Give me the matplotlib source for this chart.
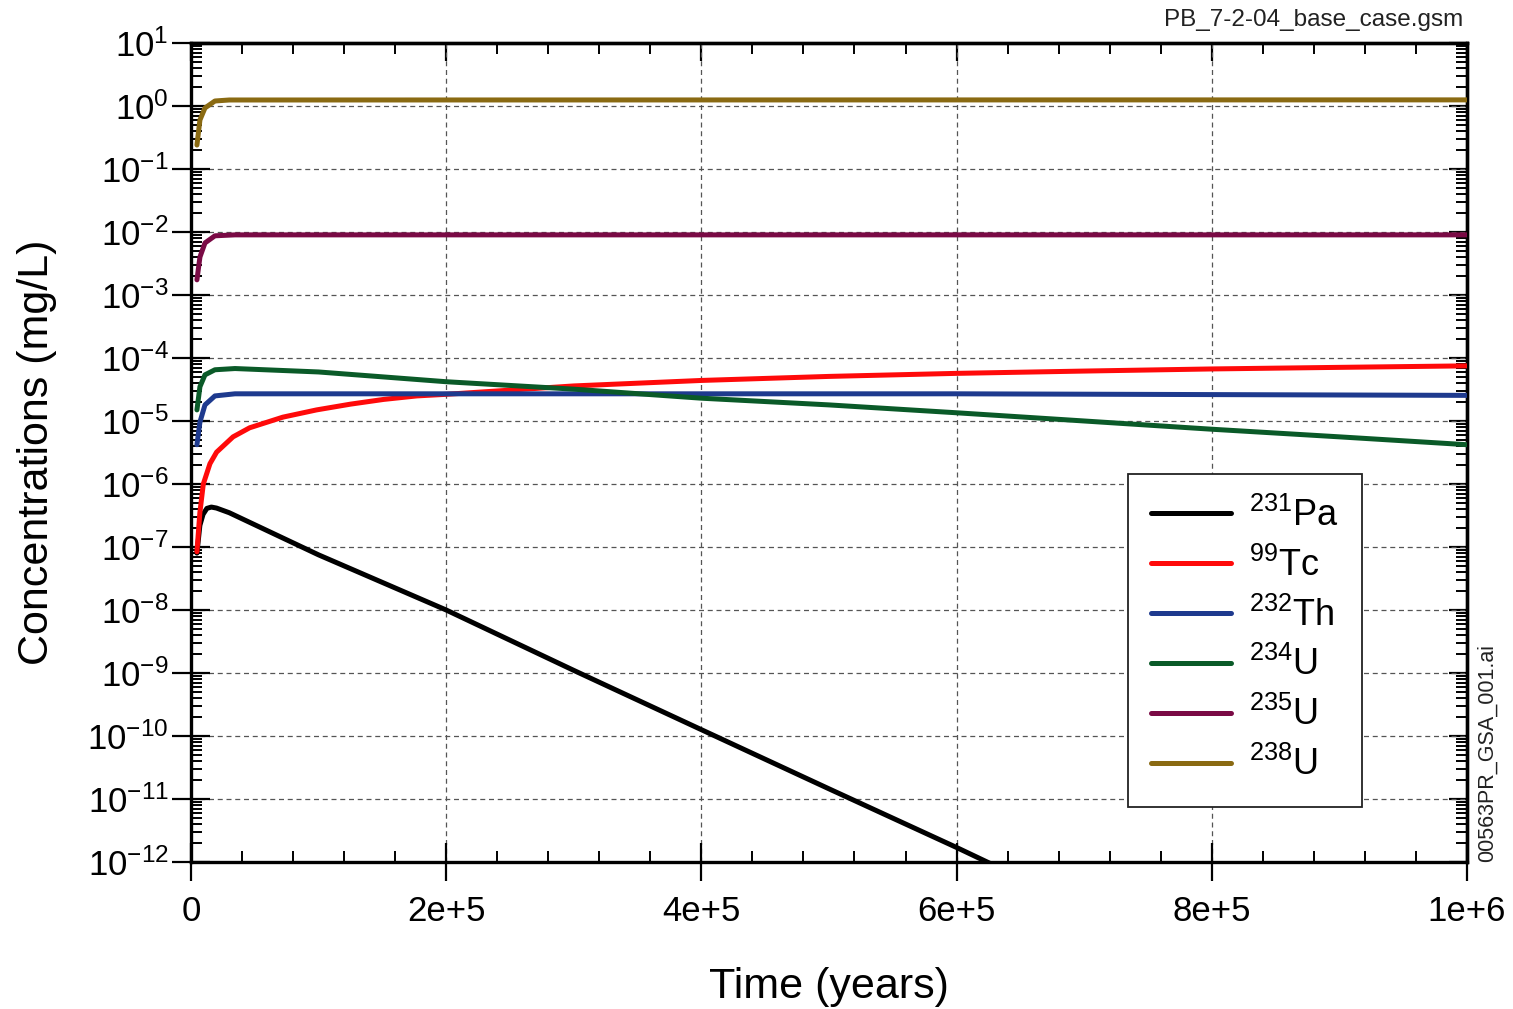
import numpy as np
import matplotlib
matplotlib.use("Agg")
import matplotlib.pyplot as plt
from matplotlib.ticker import LogLocator, MultipleLocator, FixedLocator, FixedFormatter, NullFormatter

plt.rcParams['font.family'] = ['Liberation Sans', 'DejaVu Sans']
plt.rcParams['mathtext.fontset'] = 'custom'
plt.rcParams['mathtext.rm'] = 'Liberation Sans'
plt.rcParams['mathtext.it'] = 'Liberation Sans:italic'
plt.rcParams['mathtext.bf'] = 'Liberation Sans:bold'
plt.rcParams['mathtext.default'] = 'regular'

# concentrations (mg/L), time in years
t_pa = [4700, 7000, 9500, 12500, 16000, 20000, 30000, 100000, 200000, 300000, 400000, 500000, 600000, 640000]
c_pa = [8e-8, 2.2e-7, 3.3e-7, 4.1e-7, 4.3e-7, 4.15e-7, 3.5e-7, 7.5e-8, 1.0e-8, 1.1e-9, 1.26e-10, 1.45e-11,
        1.7e-12, 7e-13]

t_tc = [4700, 7000, 9700, 14900, 20100, 33000, 46000, 72000, 98500, 125000, 151000, 177000,
        200000, 300000, 400000, 500000, 600000, 700000, 800000, 900000, 1000000]
c_tc = [8.4e-8, 3.5e-7, 1.0e-6, 2.1e-6, 3.2e-6, 5.6e-6, 7.8e-6, 1.15e-5, 1.5e-5, 1.85e-5, 2.2e-5, 2.5e-5,
        2.65e-5, 3.6e-5, 4.4e-5, 5.1e-5, 5.7e-5, 6.2e-5, 6.7e-5, 7.1e-5, 7.5e-5]

t_th = [4700, 7050, 11000, 18800, 34500, 600000, 1000000]
c_th = [4.2e-6, 9.6e-6, 1.8e-5, 2.5e-5, 2.7e-5, 2.7e-5, 2.55e-5]

t_u234 = [4700, 7050, 11000, 18800, 34500, 100000, 200000, 300000, 400000, 500000, 600000, 700000,
          800000, 900000, 1000000]
c_u234 = [1.5e-5, 3.5e-5, 5.4e-5, 6.5e-5, 6.8e-5, 6.0e-5, 4.2e-5, 3.2e-5, 2.3e-5, 1.8e-5, 1.35e-5, 1.0e-5,
          7.4e-6, 5.6e-6, 4.2e-6]

t_u235 = [4700, 7050, 11000, 18800, 34500, 1000000]
c_u235 = [1.74e-3, 4.0e-3, 6.7e-3, 8.7e-3, 9.0e-3, 9.0e-3]

t_u238 = [4700, 7050, 11000, 18800, 30000, 1000000]
c_u238 = [0.24, 0.6, 0.93, 1.2, 1.245, 1.25]

series = [
    (r'$^{231}$Pa', t_pa, c_pa, '#000000'),
    (r'$^{99}$Tc', t_tc, c_tc, '#ff0a0a'),
    (r'$^{232}$Th', t_th, c_th, '#1e3a8e'),
    (r'$^{234}$U', t_u234, c_u234, '#0a5a28'),
    (r'$^{235}$U', t_u235, c_u235, '#7a0a45'),
    (r'$^{238}$U', t_u238, c_u238, '#8a6a12'),
]

x_ticks = [0, 2e5, 4e5, 6e5, 8e5, 1e6]
x_labels = ['0', '2e+5', '4e+5', '6e+5', '8e+5', '1e+6']

fig = plt.figure(figsize=(15.13, 10.09), dpi=100)
ax = fig.add_axes([0.1262, 0.1457, 0.9696 - 0.1262, 0.9574 - 0.1457])

for name, t, c, col in series:
    ax.plot(t, c, color=col, lw=3.6, label=name, solid_capstyle='round', zorder=3)

ax.set_yscale('log')
ax.set_xlim(0, 1e6)
ax.set_ylim(1e-12, 1e1)

ax.xaxis.set_major_locator(FixedLocator(x_ticks))
ax.xaxis.set_major_formatter(FixedFormatter(x_labels))
ax.xaxis.set_minor_locator(MultipleLocator(4e4))
ax.yaxis.set_major_locator(LogLocator(base=10, numticks=30))
ax.yaxis.set_minor_locator(LogLocator(base=10, subs=np.arange(2, 10), numticks=300))
ax.yaxis.set_minor_formatter(NullFormatter())

ax.grid(True, which='major', color='#555555', lw=0.9, ls=(0, (4, 3)), zorder=1)

ax.tick_params(which='major', direction='inout', length=28, width=1.6, colors='black')
ax.tick_params(axis='x', which='major', pad=10, labelsize=25)
ax.tick_params(axis='y', which='major', pad=2, labelsize=25)
ax.tick_params(which='minor', direction='in', length=8, width=1.4)
for s in ax.spines.values():
    s.set_linewidth(2.4)

# ticks on top and right, pointing in only
top = ax.secondary_xaxis('top')
top.xaxis.set_major_locator(FixedLocator(x_ticks))
top.xaxis.set_minor_locator(MultipleLocator(4e4))
top.tick_params(which='major', direction='in', length=13, width=1.6, labeltop=False)
top.tick_params(which='minor', direction='in', length=8, width=1.4)
top.spines['top'].set_linewidth(2.4)

right = ax.secondary_yaxis('right')
right.yaxis.set_major_locator(LogLocator(base=10, numticks=30))
right.yaxis.set_minor_locator(LogLocator(base=10, subs=np.arange(2, 10), numticks=300))
right.tick_params(which='major', direction='in', length=13, width=1.6, labelright=False)
right.tick_params(which='minor', direction='in', length=8, width=1.4, labelright=False)
right.yaxis.set_major_formatter(NullFormatter())
right.yaxis.set_minor_formatter(NullFormatter())
right.spines['right'].set_linewidth(2.4)

ax.set_xlabel('Time (years)', fontsize=31, labelpad=28)
ax.set_ylabel('Concentrations (mg/L)', fontsize=31, labelpad=22)

leg = ax.legend(loc='upper right', bbox_to_anchor=(0.9177, 0.4737), borderaxespad=0,
                fontsize=26, frameon=True, fancybox=False, framealpha=1,
                handlelength=2.2, handletextpad=0.5, labelspacing=0.38,
                borderpad=0.65)
leg.get_frame().set_edgecolor('#222222')
leg.get_frame().set_linewidth(1.3)
for h in leg.get_lines():
    h.set_linewidth(3.6)
    h.set_solid_capstyle('round')

fig.text(0.967, 0.980, 'PB_7-2-04_base_case.gsm', ha='right', va='center', fontsize=17.5, color='#222222')
fig.text(0.983, 0.1457, '00563PR_GSA_001.ai', ha='center', va='bottom', rotation=90,
         fontsize=15.5, color='#222222')

fig.savefig('out.png', dpi=100)
